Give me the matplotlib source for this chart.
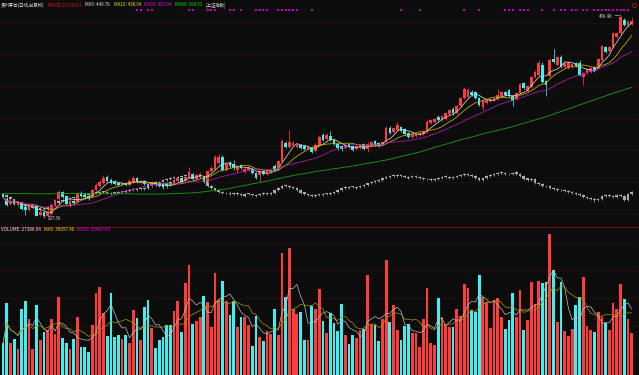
import numpy as np
import pandas as pd
import matplotlib
matplotlib.use("Agg")
import matplotlib.pyplot as plt
from matplotlib.lines import Line2D
from matplotlib.transforms import blended_transform_factory

plt.rcParams['font.family'] = ['Noto Sans CJK SC', 'DejaVu Sans']

# ---------------- data: 贵州茅台 daily candles (前复权) ----------------
open_ = [315.7, 311.7, 307.8, 309.4, 307.0, 308.6, 305.4, 303.1, 305.4, 307.0,
         299.1, 301.5, 298.4, 299.9, 307.0, 311.7, 317.2, 314.1, 307.0, 310.2,
         309.4, 316.5, 314.9, 314.1, 313.3, 318.8, 322.0, 324.3, 329.0, 326.7,
         325.1, 324.3, 322.7, 324.3, 322.7, 325.1, 328.3, 324.3, 325.9, 323.5,
         322.0, 325.1, 323.5, 323.5, 324.3, 325.1, 323.5, 325.9, 328.3, 325.9,
         328.3, 330.6, 327.5, 329.8, 329.0, 326.7, 333.8, 335.3, 340.1, 344.8,
         334.5, 340.1, 339.3, 334.5, 338.5, 333.0, 334.5, 335.3, 332.2, 330.6,
         333.8, 331.4, 333.0, 337.7, 336.1, 341.6, 355.8, 352.6, 354.2, 352.6,
         354.2, 353.4, 351.1, 351.9, 349.5, 354.2, 362.1, 358.9, 361.3, 358.1,
         355.0, 353.4, 351.9, 355.0, 353.4, 351.1, 351.9, 355.0, 351.1, 354.2,
         357.4, 355.8, 354.2, 356.6, 367.6, 364.4, 366.0, 368.4, 366.8, 363.7,
         360.5, 361.3, 362.1, 362.9, 364.4, 371.5, 372.3, 376.2, 373.9, 374.7,
         378.6, 382.5, 379.4, 384.9, 391.2, 392.0, 395.9, 395.9, 391.2, 384.1,
         387.3, 388.8, 389.6, 390.4, 392.8, 395.9, 397.5, 392.8, 390.4, 395.1,
         403.0, 396.7, 399.8, 407.7, 409.3, 417.2, 404.6, 408.5, 421.9, 417.2,
         423.4, 415.6, 414.8, 415.6, 418.7, 418.7, 407.7, 410.9, 411.6, 415.6,
         414.8, 421.1, 431.3, 428.2, 431.3, 439.2, 442.3, 452.6, 448.6, 449.4]
high = [316.5, 313.3, 310.2, 310.9, 310.2, 309.4, 307.0, 307.8, 308.6, 307.8,
        303.1, 302.3, 302.3, 307.8, 311.7, 318.8, 318.0, 314.9, 311.7, 311.7,
        317.2, 318.0, 316.5, 314.9, 319.6, 324.3, 326.7, 330.6, 330.6, 328.3,
        326.7, 325.1, 325.1, 325.1, 327.5, 329.8, 329.0, 326.7, 326.7, 324.3,
        325.9, 325.9, 324.3, 324.3, 325.1, 325.9, 327.5, 329.0, 329.0, 329.8,
        336.9, 332.2, 331.4, 333.0, 329.8, 334.5, 337.7, 346.3, 347.1, 346.3,
        340.8, 341.6, 342.4, 338.5, 339.3, 336.9, 337.7, 336.1, 333.0, 334.5,
        334.5, 334.5, 335.3, 339.3, 342.4, 358.9, 357.4, 366.0, 357.4, 355.8,
        355.0, 354.2, 353.4, 352.6, 355.8, 362.1, 363.7, 363.7, 365.2, 358.9,
        355.8, 354.2, 355.0, 355.8, 354.2, 354.2, 355.0, 355.8, 356.6, 357.4,
        358.1, 356.6, 357.4, 369.2, 369.2, 368.4, 372.3, 369.2, 367.6, 364.4,
        363.7, 363.7, 364.4, 366.0, 373.9, 374.7, 375.5, 377.8, 377.8, 380.2,
        382.5, 384.1, 385.7, 392.0, 399.8, 399.1, 397.5, 396.7, 392.0, 390.4,
        390.4, 391.2, 392.0, 398.3, 396.7, 396.7, 398.3, 393.6, 395.9, 403.0,
        403.8, 401.4, 408.5, 413.2, 421.1, 419.5, 405.4, 422.7, 429.7, 424.2,
        425.0, 419.5, 420.3, 418.7, 419.5, 421.1, 411.6, 414.8, 415.6, 416.4,
        422.7, 432.9, 432.1, 432.1, 443.1, 443.1, 456.48, 454.1, 452.6, 454.9]
low = [312.5, 306.2, 307.0, 307.0, 306.2, 303.1, 299.1, 302.3, 304.6, 298.2,
       298.4, 297.56, 297.9, 299.1, 306.2, 310.9, 312.5, 307.0, 305.4, 307.0,
       308.6, 313.3, 311.7, 310.9, 312.5, 318.0, 321.2, 323.5, 325.1, 323.5,
       322.7, 322.0, 322.0, 322.0, 322.0, 324.3, 324.3, 323.5, 322.7, 319.6,
       321.2, 322.0, 321.2, 319.6, 320.4, 322.0, 322.7, 325.1, 324.3, 325.1,
       327.5, 326.7, 326.7, 329.0, 324.3, 325.9, 333.0, 334.5, 338.5, 333.8,
       333.8, 336.1, 334.5, 333.0, 335.3, 332.2, 333.8, 331.4, 327.5, 325.1,
       330.6, 330.6, 332.2, 333.8, 335.3, 340.8, 351.9, 351.9, 353.4, 351.9,
       351.1, 350.3, 350.3, 347.9, 348.7, 353.4, 357.4, 358.1, 357.4, 354.2,
       350.3, 349.5, 351.1, 351.9, 349.5, 350.3, 351.1, 350.3, 348.7, 353.4,
       353.4, 352.6, 353.4, 355.8, 362.9, 363.7, 365.2, 364.4, 362.1, 359.7,
       359.7, 360.5, 361.3, 362.1, 363.7, 370.7, 371.5, 373.1, 373.1, 373.9,
       377.8, 377.8, 378.6, 384.1, 390.4, 391.2, 392.8, 390.4, 384.9, 381.7,
       386.5, 388.0, 388.8, 389.6, 392.0, 392.8, 392.0, 384.9, 389.6, 394.3,
       398.3, 395.9, 399.1, 406.9, 408.5, 403.0, 392.8, 407.7, 418.7, 416.4,
       414.8, 414.8, 414.0, 414.8, 415.6, 408.5, 401.4, 410.1, 410.9, 411.6,
       414.0, 420.3, 426.6, 427.4, 430.5, 438.4, 441.5, 447.8, 447.0, 448.6]
close = [313.3, 307.0, 309.4, 307.8, 309.4, 303.9, 303.1, 307.0, 307.0, 298.4,
         301.5, 298.4, 301.5, 307.0, 310.9, 317.2, 313.3, 307.8, 310.2, 308.6,
         315.7, 314.1, 313.3, 312.5, 318.8, 322.7, 325.1, 328.3, 325.9, 324.3,
         323.5, 322.7, 324.3, 322.7, 325.9, 328.3, 325.1, 325.9, 323.5, 321.2,
         325.1, 322.7, 322.0, 321.2, 322.0, 323.5, 326.7, 328.3, 325.1, 329.0,
         333.0, 327.5, 330.6, 331.4, 325.1, 333.8, 336.1, 344.8, 344.8, 334.5,
         339.3, 337.7, 336.1, 336.9, 336.1, 335.3, 336.9, 332.2, 328.3, 333.8,
         331.4, 333.8, 334.5, 334.5, 341.6, 357.4, 352.6, 356.6, 355.8, 354.2,
         351.9, 351.1, 352.6, 348.7, 354.2, 360.5, 358.1, 362.1, 358.1, 355.0,
         351.9, 351.1, 354.2, 352.6, 350.3, 353.4, 354.2, 351.1, 355.0, 356.6,
         354.2, 353.4, 356.6, 367.6, 363.7, 367.6, 369.9, 365.2, 362.9, 360.5,
         362.9, 362.9, 363.7, 365.2, 372.3, 373.9, 374.7, 373.9, 377.0, 379.4,
         381.7, 379.4, 384.9, 391.2, 398.3, 397.5, 393.6, 391.2, 385.7, 389.6,
         389.6, 390.4, 391.2, 393.6, 395.9, 393.6, 392.8, 388.8, 395.1, 402.2,
         399.1, 400.6, 407.7, 411.6, 418.7, 403.8, 401.4, 421.1, 419.5, 423.4,
         415.6, 418.7, 419.5, 417.9, 416.4, 409.3, 410.9, 414.0, 414.8, 412.4,
         421.9, 432.1, 427.4, 431.3, 442.3, 442.3, 454.9, 448.6, 451.0, 452.0]
volume = [23550, 38330, 23550, 25120, 21370, 36040, 38840, 32400, 21370, 37380,
          24750, 27660, 28390, 32400, 26830, 40510, 25590, 23550, 21370, 25230,
          33020, 22200, 22200, 20490, 30210, 41970, 43940, 34690, 26210, 41860,
          25840, 26570, 25230, 26570, 23550, 35670, 32650, 24750, 36660, 39310,
          29010, 21730, 24750, 25740, 30100, 30320, 35420, 38840, 27770, 45610,
          51940, 30470, 31560, 33020, 40770, 38580, 29480, 49030, 39310, 46230,
          39060, 33960, 38950, 29480, 33020, 33020, 30320, 22570, 33490, 25950,
          24500, 28030, 27050, 36040, 26570, 56310, 40400, 58130, 36040, 34110,
          34840, 24750, 24750, 37130, 36040, 43210, 31780, 27190, 34470, 30830,
          28140, 37860, 26570, 23190, 26460, 25590, 28390, 28870, 48410, 30470,
          30320, 24390, 32290, 53870, 31300, 37490, 28390, 24750, 29740, 30470,
          27410, 27410, 22310, 32290, 43570, 23550, 22930, 40150, 33020, 30210,
          29590, 29380, 36040, 33600, 45030, 43570, 35670, 34840, 48410, 40300,
          38690, 29010, 39310, 39930, 33020, 28760, 32030, 41970, 33020, 42950,
          28390, 32030, 45760, 37860, 46230, 45610, 45970, 63340, 50230, 31410,
          45760, 28030, 26210, 28870, 37490, 40510, 47790, 29960, 28390, 27660,
          35050, 33020, 31050, 28390, 38330, 36040, 45030, 39570, 32290, 27386.04]
ma60 = [316.0, 316.1, 316.1, 316.0, 316.0, 315.9, 315.9, 315.9, 315.8, 315.8,
        315.8, 315.8, 315.8, 315.8, 315.9, 315.9, 316.0, 316.0, 316.0, 316.0,
        316.0, 316.0, 316.0, 316.0, 316.1, 316.1, 316.1, 316.1, 316.0, 316.0,
        315.9, 315.9, 315.8, 315.8, 315.7, 315.7, 315.6, 315.6, 315.6, 315.6,
        315.6, 315.6, 315.6, 315.7, 315.8, 315.9, 316.0, 316.1, 316.2, 316.3,
        316.4, 316.6, 316.8, 317.1, 317.4, 317.8, 318.1, 318.5, 318.8, 319.2,
        319.6, 320.2, 320.7, 321.3, 321.9, 322.4, 323.0, 323.6, 324.1, 324.7,
        325.3, 325.9, 326.5, 327.1, 327.7, 328.4, 329.0, 329.6, 330.2, 330.7,
        331.2, 331.7, 332.2, 332.7, 333.3, 333.8, 334.2, 334.6, 335.1, 335.5,
        335.9, 336.4, 336.8, 337.3, 337.7, 338.2, 338.7, 339.3, 339.8, 340.3,
        340.8, 341.3, 341.9, 342.4, 343.1, 343.8, 344.5, 345.2, 345.9, 346.6,
        347.3, 348.0, 348.7, 349.6, 350.5, 351.4, 352.2, 353.1, 354.0, 354.8,
        355.7, 356.6, 357.4, 358.2, 359.0, 359.8, 360.5, 361.3, 362.1, 362.9,
        363.7, 364.4, 365.1, 365.8, 366.5, 367.2, 367.9, 368.6, 369.5, 370.4,
        371.3, 372.1, 373.0, 373.9, 374.8, 375.6, 376.5, 377.5, 378.5, 379.6,
        380.6, 381.6, 382.6, 383.6, 384.7, 385.7, 386.7, 387.8, 388.8, 389.8,
        390.8, 391.8, 392.9, 393.9, 394.9, 395.8, 396.7, 397.7, 398.6, 399.5]

# overlay: 上证指数 (gray candles, own scale)
idx_open = [3130, 3124, 3114, 3104, 3082, 3088, 3078, 3072, 3066, 3062,
            3052, 3062, 3054, 3066, 3076, 3084, 3096, 3098, 3106, 3111,
            3114, 3121, 3128, 3124, 3131, 3138, 3133, 3142, 3141, 3132,
            3137, 3134, 3142, 3139, 3146, 3153, 3148, 3157, 3153, 3162,
            3168, 3176, 3182, 3191, 3198, 3206, 3214, 3209, 3216, 3223,
            3218, 3228, 3226, 3222, 3216, 3212, 3172, 3158, 3151, 3142,
            3133, 3137, 3128, 3136, 3132, 3122, 3133, 3128, 3122, 3126,
            3129, 3137, 3128, 3137, 3148, 3162, 3174, 3168, 3166, 3162,
            3150, 3138, 3131, 3126, 3118, 3128, 3123, 3133, 3128, 3136,
            3141, 3148, 3163, 3158, 3167, 3162, 3166, 3168, 3176, 3184,
            3188, 3196, 3202, 3208, 3216, 3224, 3218, 3227, 3221, 3212,
            3216, 3222, 3214, 3211, 3203, 3207, 3199, 3204, 3211, 3218,
            3214, 3208, 3216, 3222, 3226, 3232, 3227, 3221, 3212, 3198,
            3211, 3218, 3226, 3229, 3238, 3236, 3228, 3232, 3238, 3229,
            3221, 3208, 3198, 3206, 3187, 3181, 3168, 3172, 3162, 3156,
            3148, 3151, 3146, 3142, 3136, 3131, 3126, 3116, 3112, 3106,
            3098, 3106, 3122, 3127, 3121, 3114, 3127, 3121, 3102, 3128]
idx_high = [3136, 3128, 3118, 3107, 3090, 3092, 3082, 3076, 3070, 3066,
            3064, 3066, 3069, 3080, 3089, 3100, 3105, 3110, 3115, 3120,
            3125, 3130, 3133, 3135, 3140, 3143, 3145, 3147, 3145, 3140,
            3142, 3145, 3147, 3150, 3155, 3158, 3160, 3162, 3165, 3175,
            3180, 3185, 3195, 3205, 3210, 3215, 3219, 3220, 3225, 3228,
            3230, 3233, 3231, 3227, 3221, 3216, 3176, 3162, 3155, 3146,
            3140, 3141, 3140, 3140, 3136, 3135, 3137, 3132, 3130, 3135,
            3140, 3141, 3140, 3155, 3165, 3175, 3179, 3173, 3170, 3166,
            3154, 3142, 3135, 3130, 3130, 3132, 3135, 3137, 3140, 3145,
            3155, 3165, 3168, 3170, 3172, 3170, 3175, 3180, 3190, 3195,
            3200, 3205, 3215, 3220, 3225, 3229, 3230, 3232, 3226, 3220,
            3225, 3227, 3219, 3216, 3210, 3212, 3210, 3215, 3220, 3223,
            3219, 3220, 3225, 3230, 3235, 3237, 3232, 3226, 3216, 3215,
            3225, 3230, 3235, 3240, 3243, 3241, 3235, 3240, 3243, 3234,
            3225, 3212, 3210, 3210, 3191, 3185, 3175, 3176, 3166, 3160,
            3155, 3155, 3150, 3146, 3140, 3135, 3130, 3120, 3116, 3110,
            3110, 3125, 3130, 3131, 3125, 3130, 3131, 3125, 3135, 3145]
idx_low = [3120, 3110, 3100, 3080, 3078, 3074, 3064, 3060, 3054, 3048,
           3048, 3050, 3050, 3062, 3072, 3080, 3091, 3094, 3101, 3106,
           3110, 3116, 3120, 3120, 3126, 3130, 3129, 3135, 3130, 3127,
           3130, 3130, 3135, 3134, 3141, 3145, 3143, 3150, 3148, 3157,
           3163, 3171, 3177, 3186, 3193, 3201, 3205, 3204, 3211, 3215,
           3213, 3220, 3215, 3210, 3205, 3165, 3155, 3145, 3135, 3130,
           3128, 3125, 3123, 3125, 3120, 3117, 3125, 3120, 3117, 3121,
           3124, 3125, 3123, 3132, 3143, 3157, 3165, 3160, 3155, 3145,
           3130, 3125, 3120, 3115, 3113, 3120, 3118, 3125, 3123, 3131,
           3136, 3143, 3155, 3153, 3160, 3157, 3161, 3163, 3171, 3179,
           3183, 3191, 3197, 3203, 3211, 3215, 3213, 3215, 3210, 3207,
           3211, 3210, 3205, 3200, 3198, 3195, 3194, 3199, 3206, 3210,
           3205, 3203, 3211, 3217, 3221, 3220, 3215, 3205, 3195, 3193,
           3206, 3213, 3221, 3224, 3230, 3225, 3223, 3227, 3225, 3215,
           3200, 3195, 3193, 3180, 3175, 3165, 3163, 3155, 3150, 3145,
           3143, 3140, 3135, 3130, 3125, 3120, 3110, 3105, 3100, 3090,
           3093, 3101, 3117, 3115, 3110, 3109, 3115, 3095, 3097, 3123]
idx_close = [3125, 3115, 3105, 3085, 3085, 3080, 3070, 3065, 3060, 3055,
             3060, 3055, 3065, 3075, 3085, 3095, 3100, 3105, 3110, 3115,
             3120, 3125, 3125, 3130, 3135, 3135, 3140, 3140, 3135, 3135,
             3135, 3140, 3140, 3145, 3150, 3150, 3155, 3155, 3160, 3170,
             3175, 3180, 3190, 3200, 3205, 3210, 3210, 3215, 3220, 3220,
             3225, 3225, 3220, 3215, 3210, 3170, 3160, 3150, 3140, 3135,
             3135, 3130, 3135, 3130, 3125, 3130, 3130, 3125, 3125, 3130,
             3135, 3130, 3135, 3150, 3160, 3170, 3170, 3165, 3160, 3150,
             3135, 3130, 3125, 3120, 3125, 3125, 3130, 3130, 3135, 3140,
             3150, 3160, 3160, 3165, 3165, 3165, 3170, 3175, 3185, 3190,
             3195, 3200, 3210, 3215, 3220, 3220, 3225, 3220, 3215, 3215,
             3220, 3215, 3210, 3205, 3205, 3200, 3205, 3210, 3215, 3215,
             3210, 3215, 3220, 3225, 3230, 3225, 3220, 3210, 3200, 3210,
             3220, 3225, 3230, 3235, 3235, 3230, 3230, 3235, 3230, 3220,
             3205, 3200, 3205, 3185, 3180, 3170, 3170, 3160, 3155, 3150,
             3150, 3145, 3140, 3135, 3130, 3125, 3115, 3110, 3105, 3100,
             3105, 3120, 3125, 3120, 3115, 3125, 3120, 3100, 3130, 3140]

signal_idx = [36, 37, 39, 40, 50, 51, 55, 56, 57, 61, 62, 64, 68, 69, 70, 71,
              74, 75, 76, 77, 78, 79, 83, 107, 112, 124, 128, 135, 136, 137,
              139, 140, 141, 145, 148, 150, 151, 153, 154, 156, 157, 159, 160,
              161, 162, 163, 164, 165, 166, 167, 168]

header_parts = [("贵州茅台(日线,前复权)", "#e6e6e6"),
                ("开始日 20150101", "#d01010"),
                ("MA5: 449.76", "#e6e6e6"),
                ("MA10: 438.54", "#e6e600"),
                ("MA20: 426.04", "#e600e6"),
                ("MA60: 399.53", "#00e600"),
                ("[上证指数]", "#e6e6e6")]
vol_parts = [("VOLUME: 27386.04", "#e6e6e6"),
             ("MA5: 36057.40", "#e6e600"),
             ("MA10: 35482.60", "#e600e6")]

for arr in (open_, high, low, close, volume, ma60, idx_open, idx_high, idx_low, idx_close):
    assert len(arr) == 170, len(arr)

# ---------------- drawing ----------------
W, H = 639, 375
BG = "#0c0c0c"
UP = "#ff3b3b"
DN = "#3ff0f0"
FS = 3.2

fig = plt.figure(figsize=(W / 100, H / 100), dpi=100, facecolor=BG)


def rect(top, bottom):
    return [0, 1 - bottom / H, 1, (bottom - top) / H]


n = len(close)
x = np.arange(n)
XL = (-0.806, 170.97)

ax_i = fig.add_axes(rect(12, 226), facecolor=BG, zorder=1)
ax = fig.add_axes(rect(12, 226), zorder=2)
ax.patch.set_alpha(0)
axv = fig.add_axes(rect(227, 375), facecolor=BG, zorder=1)

for a in (ax_i, ax, axv):
    a.set_xlim(*XL)
    for s in a.spines.values():
        s.set_visible(False)
    a.tick_params(length=0, labelleft=False, labelbottom=False)
    a.set_xticks([])

ax.set_ylim(290.48, 458.85)
ax_i.set_ylim(2970, 4040)
ax_i.set_yticks([])
axv.set_ylim(12012, 65884)

grid_kw = dict(color="#5c0b0b", linestyle=(0, (1, 2)), linewidth=0.6)
ax.set_yticks([300, 325, 350, 375, 400, 425, 450])
ax.grid(axis="y", **grid_kw)
ax.set_axisbelow(True)
axv.set_yticks([20000, 30000, 40000, 50000, 60000])
axv.grid(axis="y", **grid_kw)
axv.set_axisbelow(True)


def draw_candles(a, o, h, l, c, up_c, dn_c, w, minh, z):
    o, h, l, c = map(np.asarray, (o, h, l, c))
    up = c >= o
    cols = np.where(up, up_c, dn_c)
    a.vlines(x, l, h, colors=cols, linewidth=0.55, zorder=z)
    bot = np.minimum(o, c)
    hgt = np.maximum(np.abs(c - o), minh)
    a.bar(x, hgt, w, bottom=bot, color=cols, linewidth=0, zorder=z + 0.1)


# index overlay
draw_candles(ax_i, idx_open, idx_high, idx_low, idx_close,
             "#ababab", "#ababab", 0.7, 3, 2)

# main candles
draw_candles(ax, open_, high, low, close, UP, DN, 0.72, 0.5, 3)

cs = pd.Series(close)
ax.plot(x, cs.rolling(5, min_periods=1).mean(), color="#d2d2d2", lw=0.55, zorder=5)
ax.plot(x, cs.rolling(10, min_periods=1).mean(), color="#c8b400", lw=0.55, zorder=5)
ax.plot(x, cs.rolling(20, min_periods=1).mean(), color="#b020b0", lw=0.55, zorder=5)
ax.plot(x, ma60, color="#12a012", lw=0.6, zorder=5)

# high / low labels
close_a = np.asarray(close)
ih = int(np.argmax(high))
il = int(np.argmin(low))
lab_kw = dict(textcoords="offset points", fontsize=FS, color="#d8d8d8", va="center",
              arrowprops=dict(arrowstyle="-", color="#d8d8d8", lw=0.4,
                              shrinkA=0, shrinkB=0), zorder=6)
ax.annotate(f"{high[ih]:.2f}", xy=(ih, high[ih]), xytext=(-6, -1.4), ha="right", **lab_kw)
ax.annotate(f"{low[il]:.2f}", xy=(il, low[il]), xytext=(3, -0.8), ha="left", **lab_kw)

# signal dots row
trans = blended_transform_factory(ax.transData, fig.transFigure)
ax.scatter(signal_idx, [1 - 9.5 / H] * len(signal_idx), transform=trans, marker="s",
           s=1.6, color="#c000c0", linewidths=0, clip_on=False, zorder=6)

# volume
vcols = np.where(close_a >= np.asarray(open_), UP, DN)
axv.bar(x, volume, 0.74, color=vcols, linewidth=0, zorder=2)
vs = pd.Series(volume)
axv.plot(x, vs.rolling(5, min_periods=1).mean(), color="#bdbdbd", lw=0.5, zorder=3)
axv.plot(x, vs.rolling(10, min_periods=1).mean(), color="#a89a00", lw=0.5, zorder=3)

# separator and corner mark
fig.add_artist(Line2D([0, 1], [1 - 226.5 / H] * 2, color="#8a0000", lw=0.7))
fig.add_artist(Line2D([634 / W], [1 - 5 / H], marker="o", markersize=3,
                      markerfacecolor="none", markeredgecolor="#c01010", markeredgewidth=0.6))

# headers, laid out left to right
renderer = fig.canvas.get_renderer()


def header_row(parts, y_px, x0_px, gap_px, fs):
    xp = x0_px
    for txt, col in parts:
        t = fig.text(xp / W, 1 - y_px / H, txt, color=col, fontsize=fs,
                     va="center", ha="left")
        xp += t.get_window_extent(renderer).width + gap_px


header_row(header_parts, 5, 1, 3.5, FS)
header_row(vol_parts, 230, 1, 3.0, 3.3)

fig.savefig("out.png", dpi=100, facecolor=BG)
